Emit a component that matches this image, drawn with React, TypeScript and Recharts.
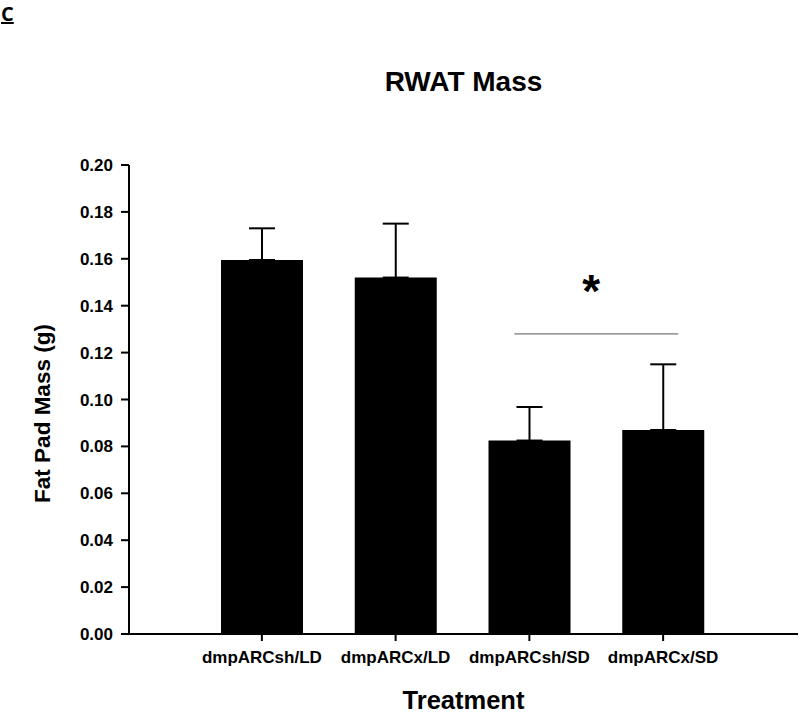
import React from 'react';
import { BarChart, Bar, XAxis, YAxis, ErrorBar, ReferenceLine } from 'recharts';

const categories = ['dmpARCsh/LD', 'dmpARCx/LD', 'dmpARCsh/SD', 'dmpARCx/SD'];
const meanMass = [0.1595, 0.152, 0.0825, 0.087];
const semMass = [0.0135, 0.023, 0.0143, 0.028];
const yTicks = [0, 0.02, 0.04, 0.06, 0.08, 0.1, 0.12, 0.14, 0.16, 0.18, 0.2];
const sigLevel = 0.128;
const sigPair = ['dmpARCsh/SD', 'dmpARCx/SD'];

const FONT = '"Liberation Sans", Arial, sans-serif';

const data = categories.map((name, i) => ({
  name,
  mass: meanMass[i],
  err: [0, semMass[i]],
}));

// significance bar + asterisk, drawn from the reference line end points
const SigMark = (props: any) => {
  const { x1, x2, y1 } = props;
  const left = x1 - 15;
  const right = x2 + 15;
  return (
    <g>
      <line x1={left} y1={y1} x2={right} y2={y1} stroke="#777" strokeWidth={1.2} />
      <text
        x={(left + right) / 2 - 5}
        y={y1 - 27}
        textAnchor="middle"
        fontSize={46}
        fontWeight={700}
        fontFamily={FONT}
        fill="#000"
      >
        *
      </text>
    </g>
  );
};

const YLabel = (props: any) => {
  const { viewBox } = props;
  const cx = viewBox.x + 42;
  const cy = viewBox.y + viewBox.height / 2 + 14;
  return (
    <text
      x={cx}
      y={cy}
      transform={`rotate(-90 ${cx} ${cy})`}
      textAnchor="middle"
      dominantBaseline="central"
      fontSize={22.5}
      fontWeight={700}
      fontFamily={FONT}
      fill="#000"
    >
      Fat Pad Mass (g)
    </text>
  );
};

export default function App() {
  return (
    <div style={{ position: 'absolute', left: 0, top: 0, width: 800, height: 714, background: '#fff' }}>
      <div
        style={{
          position: 'absolute', left: 1, top: 0, fontFamily: '"Open Sans", Arial, sans-serif',
          fontWeight: 700, fontSize: 20, textDecoration: 'underline', color: '#000',
        }}
      >
        C
      </div>
      <div
        style={{
          position: 'absolute', left: 129, width: 669, top: 66, textAlign: 'center',
          fontFamily: FONT, fontWeight: 700, fontSize: 28, color: '#000',
        }}
      >
        RWAT Mass
      </div>
      <div style={{ position: 'absolute', left: 0, top: 0 }}>
        <BarChart width={800} height={714} data={data} margin={{ top: 165, right: 2, left: 0, bottom: 0 }}>
          <XAxis
            dataKey="name"
            height={80}
            padding={{ left: 66, right: 68 }}
            axisLine={{ stroke: '#000', strokeWidth: 2 }}
            tickLine={{ stroke: '#000', strokeWidth: 2 }}
            tickSize={7}
            tickMargin={10}
            tick={{ fill: '#000', fontSize: 17, fontWeight: 700, fontFamily: FONT }}
            interval={0}
            label={{
              value: 'Treatment', position: 'insideBottom', offset: 5,
              fill: '#000', fontSize: 25.5, fontWeight: 700, fontFamily: FONT,
            }}
          />
          <YAxis
            width={129}
            domain={[0, 0.2]}
            ticks={yTicks}
            interval={0}
            tickFormatter={(v: number) => v.toFixed(2)}
            axisLine={{ stroke: '#000', strokeWidth: 2 }}
            tickLine={{ stroke: '#000', strokeWidth: 2 }}
            tickSize={8}
            tickMargin={8}
            tick={{ fill: '#000', fontSize: 17, fontWeight: 700, fontFamily: FONT }}
            label={<YLabel />}
          />
          <Bar dataKey="mass" fill="#000" barSize={82} isAnimationActive={false}>
            <ErrorBar dataKey="err" direction="y" width={13} stroke="#000" strokeWidth={2} />
          </Bar>
          <ReferenceLine
            segment={[{ x: sigPair[0], y: sigLevel }, { x: sigPair[1], y: sigLevel }]}
            shape={SigMark}
          />
        </BarChart>
      </div>
    </div>
  );
}
